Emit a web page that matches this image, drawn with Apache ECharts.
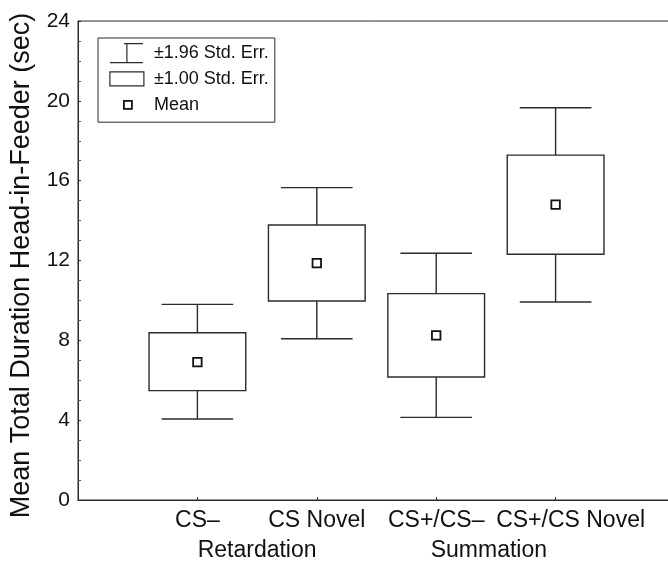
<!DOCTYPE html>
<html>
<head>
<meta charset="utf-8">
<script src="https://cdn.jsdelivr.net/npm/echarts@6/dist/echarts.min.js"></script>
<style>
html, body { margin: 0; padding: 0; background: #fff; }
#main { width: 668px; height: 561px; }
</style>
</head>
<body>
<div id="main"></div>
<script>
// values (seconds)
const categories = ['CS–', 'CS Novel', 'CS+/CS–', 'CS+/CS Novel'];
const groups = ['Retardation', 'Summation'];
const groupPos = [1.5, 3.5];
const means = [6.91, 11.87, 8.25, 14.80];
const seLow = [5.48, 9.97, 6.16, 12.31];
const seHigh = [8.38, 13.78, 10.34, 17.28];
const ciLow = [4.06, 8.08, 4.14, 9.92];
const ciHigh = [9.80, 15.65, 12.36, 19.65];
const legendNames = ['±1.96 Std. Err.', '±1.00 Std. Err.', 'Mean'];

const ink = '#2b2b2b';
const txt = '#111';
const font = "'Liberation Sans', Arial, Helvetica, sans-serif";

const whiskerData = categories.map((c, i) => [i + 1, ciLow[i], ciHigh[i]]);
const boxData = categories.map((c, i) => [i + 1, seLow[i], seHigh[i]]);
const meanData = categories.map((c, i) => [i + 1, means[i]]);

function renderWhisker(params, api) {
    const x = api.value(0);
    const top = api.coord([x, api.value(2)]);
    const bot = api.coord([x, api.value(1)]);
    const half = api.size([0.3, 0])[0];
    const style = { stroke: ink, lineWidth: 1.4, fill: null };
    return {
        type: 'group',
        children: [
            { type: 'line', shape: { x1: top[0], y1: top[1], x2: bot[0], y2: bot[1] }, style: style },
            { type: 'line', shape: { x1: top[0] - half, y1: top[1], x2: top[0] + half, y2: top[1] }, style: style },
            { type: 'line', shape: { x1: bot[0] - half, y1: bot[1], x2: bot[0] + half, y2: bot[1] }, style: style }
        ]
    };
}

function renderBox(params, api) {
    const x = api.value(0);
    const top = api.coord([x, api.value(2)]);
    const bot = api.coord([x, api.value(1)]);
    const half = api.size([0.405, 0])[0];
    return {
        type: 'rect',
        shape: { x: top[0] - half, y: top[1], width: half * 2, height: bot[1] - top[1] },
        style: { fill: '#fff', stroke: ink, lineWidth: 1.4 }
    };
}

const myChart = echarts.init(document.getElementById('main'));
const option = {
    animation: false,
    backgroundColor: '#fff',
    grid: {
        left: 78,
        top: 21,
        right: -7,
        bottom: 61,
        show: true,
        borderColor: ink,
        borderWidth: 1,
        outerBoundsMode: 'none'
    },
    legend: {
        orient: 'vertical',
        left: 98,
        top: 38,
        padding: [5, 6, 7, 11],
        borderColor: ink,
        borderWidth: 1,
        itemWidth: 39,
        itemHeight: 19,
        itemGap: 5.5,
        selectedMode: false,
        textStyle: { fontSize: 18, color: txt, fontFamily: font, lineHeight: 19 },
        data: [
            {
                name: legendNames[0],
                icon: 'path://M0,0M39,19M14,0H33M17,0V19M0,19H33',
                itemStyle: { color: 'transparent', borderColor: ink, borderWidth: 1.2 }
            },
            {
                name: legendNames[1],
                icon: 'path://M0,0M39,19M0,2.5H34V16.5H0Z',
                itemStyle: { color: '#fff', borderColor: ink, borderWidth: 1.2 }
            },
            {
                name: legendNames[2],
                icon: 'path://M0,0M39,19M14,5.5h8v8h-8Z',
                itemStyle: { color: '#fff', borderColor: '#111', borderWidth: 1.8 }
            }
        ]
    },
    xAxis: [
        {
            type: 'value',
            min: 0,
            max: 5,
            interval: 1,
            position: 'bottom',
            axisLine: { show: true, lineStyle: { color: ink, width: 1 } },
            axisTick: { show: true, inside: true, length: 3, lineStyle: { color: ink } },
            splitLine: { show: false },
            axisLabel: {
                fontSize: 23,
                color: txt,
                fontFamily: font,
                margin: 9,
                formatter: function (v) {
                    const name = categories[v - 1] || '';
                    // last label sits a little right of its tick to clear its neighbour
                    return v === categories.length ? '{shift|' + name + '}' : name;
                },
                rich: {
                    shift: { fontSize: 23, color: txt, fontFamily: font, padding: [0, 0, 0, 30] }
                }
            }
        },
        {
            type: 'value',
            min: 0,
            max: 5,
            position: 'bottom',
            axisLine: { show: false },
            axisTick: { show: false },
            splitLine: { show: false },
            axisLabel: {
                customValues: groupPos,
                fontSize: 23,
                color: txt,
                fontFamily: font,
                margin: 39,
                formatter: function (v) {
                    return v < 2.5 ? groups[0] : '{left|' + groups[1] + '}';
                },
                rich: {
                    left: { fontSize: 23, color: txt, fontFamily: font, padding: [0, 14, 0, 0] }
                }
            }
        }
    ],
    yAxis: {
        type: 'value',
        min: 0,
        max: 24,
        interval: 4,
        name: 'Mean Total Duration Head-in-Feeder (sec)',
        nameLocation: 'middle',
        nameGap: 43,
        nameTextStyle: { fontSize: 27, color: txt, fontFamily: font, padding: [0, 10, 0, 0] },
        axisLine: { show: true, lineStyle: { color: ink, width: 1 } },
        axisTick: { show: true, inside: true, length: 3, lineStyle: { color: ink } },
        minorTick: { show: true, splitNumber: 4, length: 3, lineStyle: { color: '#555' } },
        splitLine: { show: false },
        axisLabel: { fontSize: 21, color: txt, fontFamily: font, margin: 8 }
    },
    series: [
        {
            name: legendNames[0],
            type: 'custom',
            renderItem: renderWhisker,
            encode: { x: 0, y: [1, 2] },
            itemStyle: { color: ink },
            data: whiskerData
        },
        {
            name: legendNames[1],
            type: 'custom',
            renderItem: renderBox,
            encode: { x: 0, y: [1, 2] },
            itemStyle: { color: ink },
            data: boxData
        },
        {
            name: legendNames[2],
            type: 'scatter',
            symbol: 'rect',
            symbolSize: 8.5,
            itemStyle: { color: '#fff', borderColor: '#111', borderWidth: 1.8, opacity: 1 },
            data: meanData
        }
    ]
};
myChart.setOption(option);
</script>
</body>
</html>
